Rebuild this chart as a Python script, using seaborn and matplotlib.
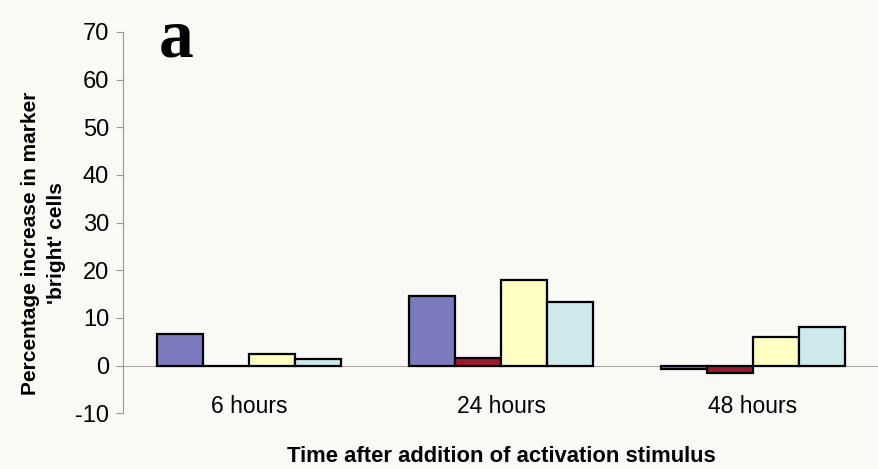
import numpy as np
import pandas as pd
import matplotlib
matplotlib.use("Agg")
import matplotlib.pyplot as plt
import seaborn as sns

# data
times = ["6 hours", "24 hours", "48 hours"]
series = ["s1", "s2", "s3", "s4"]
s1 = [6.7, 14.6, -0.8]
s2 = [0.0, 1.5, -1.6]
s3 = [2.4, 17.9, 5.9]
s4 = [1.3, 13.3, 8.1]
colors = ["#7d79bd", "#9b1a2e", "#ffffc4", "#cde9ec"]

rows = []
for name, vals in zip(series, [s1, s2, s3, s4]):
    for t, v in zip(times, vals):
        rows.append({"time": t, "series": name, "value": v})
df = pd.DataFrame(rows)

sns.set_style("white")
plt.rcParams["font.family"] = ["Liberation Sans", "DejaVu Sans"]
plt.rcParams["axes.unicode_minus"] = False
plt.rcParams["text.color"] = "black"
plt.rcParams["axes.labelcolor"] = "black"
plt.rcParams["xtick.color"] = "black"
plt.rcParams["ytick.color"] = "black"

bg = "#f9f9f5"
fig = plt.figure(figsize=(8.79, 4.69), dpi=100, facecolor=bg)
ax = fig.add_axes([0.14, 0.119, 0.86, 0.813], facecolor=bg)

sns.barplot(data=df, x="time", y="value", hue="series", order=times,
            hue_order=series, palette=colors, width=0.73, gap=0,
            edgecolor="black", linewidth=1.6, saturation=1, ax=ax,
            legend=False, errorbar=None)

ax.set_ylim(-10, 70)
ax.set_xlim(-0.5, 2.5)
ax.set_yticks(range(-10, 71, 10))
ax.tick_params(axis="y", length=5, width=0.8, color="#999999",
               labelsize=17, pad=5, left=True)

# category axis crossing at zero
ax.spines["bottom"].set_position(("data", 0))
ax.spines["bottom"].set_color("#b0a8a0")
ax.spines["bottom"].set_zorder(0)
ax.spines["left"].set_color("#999999")
ax.spines["top"].set_visible(False)
ax.spines["right"].set_visible(False)
ax.set_xticks([0, 1, 2])
ax.set_xticklabels(times, fontsize=16.5)
ax.tick_params(axis="x", length=0, pad=21)

ax.set_xlabel("Time after addition of activation stimulus", fontsize=15.8,
              fontweight="bold")
ax.xaxis.set_label_coords(0.5, -0.085)
ax.set_ylabel("Percentage increase in marker\n'bright' cells", fontsize=15,
              fontweight="bold", linespacing=1.45)
ax.yaxis.set_label_coords(-0.076, 0.445)

fig.text(0.181, 0.915, "a", fontsize=50, fontweight="bold",
         family=["Liberation Serif", "DejaVu Serif"], ha="left", va="center")

fig.savefig("out.png", dpi=100, facecolor=bg)
